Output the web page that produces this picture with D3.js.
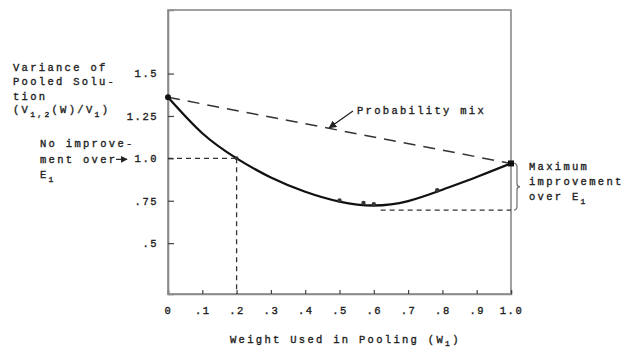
<!DOCTYPE html>
<html><head><meta charset="utf-8">
<script src="https://cdn.jsdelivr.net/npm/d3@7"></script>
<style>
body{margin:0;background:#fff;}
text{font-family:"Liberation Mono","DejaVu Sans Mono",monospace;fill:#1e1e1e;stroke:#1e1e1e;stroke-width:0.35px;}
</style></head>
<body><svg id="c" width="623" height="348"></svg>
<script>
// ---- data ----
const weights = [0,0.1,0.2,0.3,0.4,0.5,0.6,0.7,0.8,0.9,1.0];
const pooledVariance = [1.36,1.148,1.0,0.887,0.803,0.745,0.722,0.748,0.815,0.89,0.97];
const markerWeights = [0.5,0.57,0.6,0.785];
const markerValues = [0.752,0.737,0.73,0.812];
const probMix = [[0,1.36],[1,0.97]];
const noImprove = {w:0.2, v:1.0};
const maxImproveLevel = 0.695;
const maxImproveFrom = 0.62;
const xTicks = [0,0.1,0.2,0.3,0.4,0.5,0.6,0.7,0.8,0.9,1.0];
const xTickLabels = ["0",".1",".2",".3",".4",".5",".6",".7",".8",".9","1.0"];
const yTicks = [0.5,0.75,1.0,1.25,1.5];
const yTickLabels = [".5",".75","1.0","1.25","1.5"];

const svg = d3.select("#c");
const x = d3.scaleLinear().domain([0,1]).range([168,511]);
const y = d3.scaleLinear().domain([0.2,1.875]).range([294,10]);
const FS = "10.5px", LS = "2.3px";

// frame
svg.append("rect").attr("x",x(0)).attr("y",y(1.875)).attr("width",x(1)-x(0)).attr("height",y(0.2)-y(1.875))
  .attr("fill","none").attr("stroke","#8a8a8a").attr("stroke-width",1.6);

// axes
const xa = svg.append("g").attr("transform",`translate(0,${y(0.2)})`)
  .call(d3.axisBottom(x).tickValues(xTicks).tickFormat((d,i)=>xTickLabels[i]).tickSize(-4).tickPadding(13));
const ya = svg.append("g").attr("transform",`translate(${x(0)},0)`)
  .call(d3.axisLeft(y).tickValues(yTicks).tickFormat((d,i)=>yTickLabels[i]).tickSize(-6).tickPadding(10));
[xa,ya].forEach(g=>{
  g.select(".domain").attr("stroke","#8a8a8a").attr("stroke-width",1.6);
  g.selectAll(".tick line").attr("stroke","#444").attr("stroke-width",1.2);
  g.selectAll(".tick text").attr("font-size",FS).attr("letter-spacing","1.5px").attr("fill","#1e1e1e")
   .style("font-family","Liberation Mono, DejaVu Sans Mono, monospace");
});

// probability mix dashed line
svg.append("line").attr("x1",x(probMix[0][0])).attr("y1",y(probMix[0][1]))
  .attr("x2",x(probMix[1][0])).attr("y2",y(probMix[1][1]))
  .attr("stroke","#333").attr("stroke-width",1.5).attr("stroke-dasharray","12,8");

// reference dashed lines
const dash = {stroke:"#333","stroke-width":1.3,"stroke-dasharray":"5,4"};
function dl(x1,y1,x2,y2){const l=svg.append("line").attr("x1",x1).attr("y1",y1).attr("x2",x2).attr("y2",y2);
  Object.entries(dash).forEach(([k,v])=>l.attr(k,v));}
dl(x(0),y(noImprove.v),x(noImprove.w),y(noImprove.v));
dl(x(noImprove.w),y(noImprove.v),x(noImprove.w),y(0.2));
dl(x(maxImproveFrom),y(maxImproveLevel),x(1),y(maxImproveLevel));

// curve
const pts = weights.map((w,i)=>[w,pooledVariance[i]]);
svg.append("path").datum(pts)
  .attr("d",d3.line().x(d=>x(d[0])).y(d=>y(d[1])).curve(d3.curveNatural))
  .attr("fill","none").attr("stroke","#111").attr("stroke-width",2.3);

// markers
svg.selectAll(".mk").data(markerWeights).join("circle").attr("class","mk")
  .attr("cx",d=>x(d)).attr("cy",(d,i)=>y(markerValues[i])).attr("r",2.2).attr("fill","#333");
svg.append("circle").attr("cx",x(noImprove.w)).attr("cy",y(noImprove.v)).attr("r",2).attr("fill","#333");
svg.append("circle").attr("cx",x(0)).attr("cy",y(pooledVariance[0])).attr("r",3).attr("fill","#111");
svg.append("rect").attr("x",x(1)-3).attr("y",y(pooledVariance[10])-3).attr("width",6).attr("height",6).attr("fill","#111");

// arrow marker
svg.append("defs").append("marker").attr("id","ah").attr("viewBox","0 0 10 10").attr("refX",9).attr("refY",5)
  .attr("markerWidth",6).attr("markerHeight",6).attr("orient","auto")
  .append("path").attr("d","M0,0 L10,5 L0,10 z").attr("fill","#222");

// Probability mix annotation
svg.append("line").attr("x1",353).attr("y1",111).attr("x2",x(0.47)).attr("y2",y(1.18))
  .attr("stroke","#222").attr("stroke-width",1.3).attr("marker-end","url(#ah)");
function txt(t,xx,yy,anchor){return svg.append("text").attr("x",xx).attr("y",yy).attr("font-size",FS)
  .attr("letter-spacing",LS).attr("text-anchor",anchor||"start").text(t);}
txt("Probability mix",357,114);

// y title
txt("Variance of",13,71);
txt("Pooled Solu-",13,85);
txt("tion",13,100);
const t4 = svg.append("text").attr("x",13).attr("y",113).attr("font-size",FS).attr("letter-spacing",LS);
t4.append("tspan").text("(V");
t4.append("tspan").attr("dy",4).attr("font-size","8px").text("1,2");
t4.append("tspan").attr("dy",-4).text("(W)/V");
t4.append("tspan").attr("dy",4).attr("font-size","8px").text("1");
t4.append("tspan").attr("dy",-4).text(")");

// No improvement annotation
txt("No improve-",40,147);
txt("ment over",40,163);
const e1 = svg.append("text").attr("x",40).attr("y",178).attr("font-size",FS).attr("letter-spacing",LS);
e1.append("tspan").text("E");
e1.append("tspan").attr("dy",4).attr("font-size","8px").text("1");
svg.append("line").attr("x1",116).attr("y1",y(noImprove.v)+1).attr("x2",127).attr("y2",y(noImprove.v)+1)
  .attr("stroke","#222").attr("stroke-width",1.2).attr("marker-end","url(#ah)");

// brace + max improvement
const bx = x(1)+5, bt = y(pooledVariance[10]), bb = y(maxImproveLevel), bm = (bt+bb)/2;
svg.append("path").attr("d",`M${bx-2},${bt} Q${bx+1},${bt} ${bx+1},${bt+4} L${bx+1},${bm-3} Q${bx+1},${bm} ${bx+4},${bm} Q${bx+1},${bm} ${bx+1},${bm+3} L${bx+1},${bb-4} Q${bx+1},${bb} ${bx-2},${bb}`)
  .attr("fill","none").attr("stroke","#777").attr("stroke-width",1.3);
txt("Maximum",529,170);
txt("improvement",529,185);
const e2 = svg.append("text").attr("x",529).attr("y",200).attr("font-size",FS).attr("letter-spacing",LS);
e2.append("tspan").text("over E");
e2.append("tspan").attr("dy",4).attr("font-size","8px").text("1");

// x title
const xt = svg.append("text").attr("x",230).attr("y",343).attr("font-size",FS).attr("letter-spacing",LS);
xt.append("tspan").text("Weight Used in Pooling (W");
xt.append("tspan").attr("dy",3).attr("font-size","8px").text("1");
xt.append("tspan").attr("dy",-3).text(")");
</script></body></html>
